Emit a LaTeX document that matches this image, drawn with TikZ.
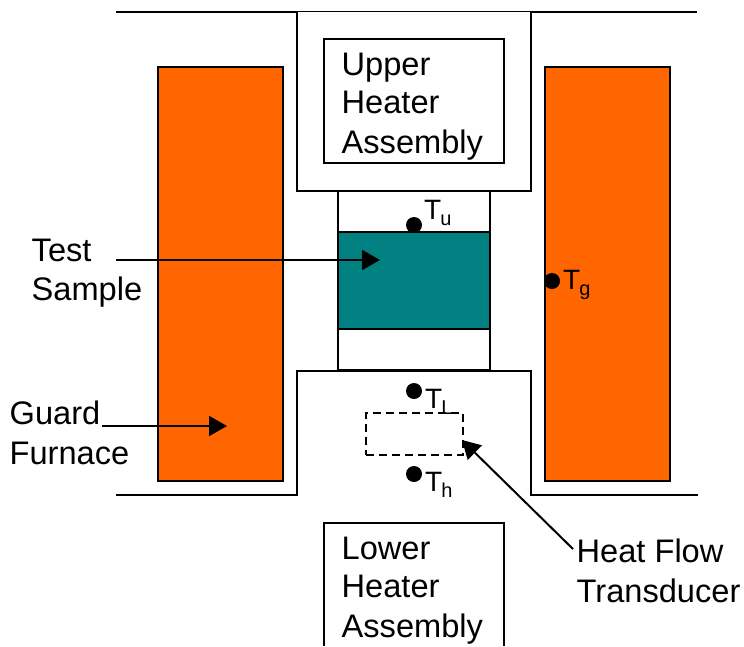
\documentclass[tikz,border=0pt]{standalone}
\usepackage{fontspec}
\setmainfont{Liberation Sans}
\usetikzlibrary{arrows.meta}
\definecolor{guard}{RGB}{255,102,0}
\definecolor{sample}{RGB}{0,128,128}
\newcommand{\tlow}[1]{\kern-1pt\raisebox{-6.5pt}{\fontsize{20}{20}\selectfont #1}}
\tikzset{
  ln/.style={line width=2pt,draw=black},
  boxn/.style={ln,outer sep=0pt,inner sep=0pt,anchor=north west},
  lbl/.style={inner sep=0pt,anchor=base west,font=\fontsize{32.6}{39}\selectfont},
  sens/.style={circle,fill=black,draw=none,minimum size=16pt,inner sep=0pt},
  tsym/.style={inner sep=0pt,anchor=base west,font=\fontsize{28}{34}\selectfont},
  arr/.style={line width=2pt,-{Triangle[length=18pt,width=20pt]}}
}
\begin{document}
\begin{tikzpicture}[x=1pt,y=-1pt]
\useasboundingbox (0,0) rectangle (744,646);
% furnace
\node[boxn,fill=guard,minimum width=125pt,minimum height=414.5pt] (gl) at (158,66.5) {};
\node[boxn,fill=guard,minimum width=125pt,minimum height=414.5pt] (gr) at (545,66.5) {};
% column
\coordinate (c1) at (338,191);
\coordinate (c2) at (490,370);
\draw[ln] (c1) rectangle (c2);
\node[boxn,fill=sample,minimum width=152pt,minimum height=97pt] (ts) at (338,232) {};
% upper enclosure
\coordinate (u0) at (116,11.5); \coordinate (u1) at (697,11.5);
\coordinate (ua) at (296.5,11.5); \coordinate (ub) at (296.5,191);
\coordinate (uc) at (531,191); \coordinate (ud) at (531,11.5);
\draw[ln] (u0) -- (u1);
\draw[ln,fill=white] (ua) -- (ub) -- (uc) -- (ud);
% lower enclosure
\coordinate (l0) at (116,494.5); \coordinate (l1) at (296.5,494.5);
\coordinate (l2) at (296.5,370.5); \coordinate (l3) at (531,370.5);
\coordinate (l4) at (531,494.5); \coordinate (l5) at (698,494.5);
\draw[ln] (l0) -- (l1) -- (l2) -- (l3) -- (l4) -- (l5);
% heater boxes
\node[boxn,minimum width=180pt,minimum height=124pt] (uh) at (324,39) {};
\coordinate (h1) at (324,646); \coordinate (h2) at (324,522.5);
\coordinate (h3) at (503.5,522.5); \coordinate (h4) at (503.5,646);
\draw[ln] (h1) -- (h2) -- (h3) -- (h4);
% transducer
\node[boxn,dash pattern=on 8pt off 5pt,minimum width=97pt,minimum height=42pt] (hf) at (366,412.5) {};
% sensors
\node[sens] (su) at (414,225) {};
\node[sens] (sg) at (552,281) {};
\node[sens] (sl) at (414,391) {};
\node[sens] (sh) at (414,474) {};
\node[tsym] (tu) at (424,219) {T\tlow{u}};
\node[tsym] (tg) at (563,289) {T\tlow{g}};
\node[tsym] (tl) at (425,408) {T\tlow{L}};
\node[tsym] (th) at (425,491) {T\tlow{h}};
% labels
\node[lbl] (a1) at (341.5,75) {Upper};
\node[lbl] (a2) at (341.5,113.5) {Heater};
\node[lbl] (a3) at (341.5,153) {Assembly};
\node[lbl] (b1) at (341.5,559) {Lower};
\node[lbl] (b2) at (341.5,597.5) {Heater};
\node[lbl] (b3) at (341.5,637) {Assembly};
\node[lbl] (t1) at (31.5,261) {Test};
\node[lbl] (t2) at (31.5,300) {Sample};
\node[lbl] (f1) at (9.5,424) {Guard};
\node[lbl] (f2) at (9.5,464) {Furnace};
\node[lbl] (q1) at (576.5,562) {Heat Flow};
\node[lbl] (q2) at (576.5,602) {Transducer};
% arrows
\coordinate (as) at (116,260); \coordinate (ae) at (380,260);
\coordinate (bs) at (102,426); \coordinate (be) at (227,426);
\coordinate (cs) at (573,549); \coordinate (ce) at (462,440);
\draw[arr] (as) -- (ae);
\draw[arr] (bs) -- (be);
\draw[arr] (cs) -- (ce);
\end{tikzpicture}
\end{document}
